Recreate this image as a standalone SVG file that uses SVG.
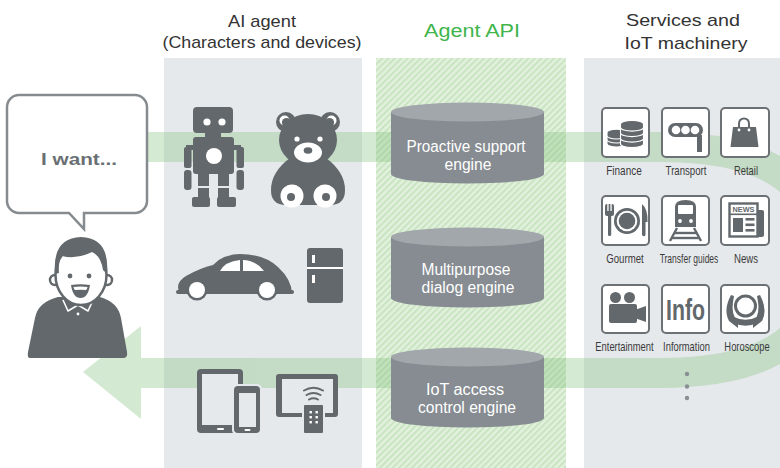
<svg xmlns="http://www.w3.org/2000/svg" width="780" height="468" viewBox="0 0 780 468">
  <defs>
    <pattern id="hatch" width="4.5" height="6" patternUnits="userSpaceOnUse" patternTransform="rotate(45)">
      <rect width="4.5" height="6" fill="#e2f1dd"/>
      <rect width="2" height="6" fill="#c8e4c1"/>
    </pattern>
    <style>
      .hdr { font-family: "Liberation Sans", Arial, sans-serif; font-size: 17px; fill: #333; text-anchor: middle; }
      .eng { font-family: "Liberation Sans Narrow", "Liberation Sans", Arial, sans-serif; font-size: 16px; fill: #fff; text-anchor: middle; }
      .lbl { font-family: "Liberation Sans", Arial, sans-serif; font-size: 12.5px; fill: #3a3a3a; text-anchor: middle; }
      .dk { fill: #62686b; }
      .wh { fill: #fff; }
      .bg { fill: #e6e9ec; }
      .box { fill: #fff; stroke: #6b7175; stroke-width: 2; }
      .cyl-body { fill: #868c91; }
      .cyl-top { fill: #a2a7ab; }
      .coin { fill: #62686b; stroke: #fff; stroke-width: 1.1; }
    </style>
  </defs>

  <rect width="780" height="468" fill="#fff"/>

  <!-- column backgrounds -->
  <rect x="164" y="58" width="198" height="410" class="bg"/>
  <rect x="376" y="58" width="190" height="410" fill="url(#hatch)"/>
  <rect x="584" y="58" width="196" height="410" class="bg"/>

  <!-- headers -->
  <text class="hdr" x="262" y="27" textLength="68" lengthAdjust="spacingAndGlyphs">AI agent</text>
  <text class="hdr" x="262" y="48" textLength="199" lengthAdjust="spacingAndGlyphs">(Characters and devices)</text>
  <text class="hdr" x="472" y="37" style="fill:#40b54c;font-size:18px" textLength="96" lengthAdjust="spacingAndGlyphs">Agent API</text>
  <text class="hdr" x="683" y="26" textLength="114" lengthAdjust="spacingAndGlyphs">Services and</text>
  <text class="hdr" x="686" y="49" textLength="123" lengthAdjust="spacingAndGlyphs">IoT machinery</text>

  <!-- connectors: the request/response loop -->
  <g id="connectors" opacity="0.32">
    <path d="M148,147 H660 C765,147 822,180 822,260 C822,340 765,373 660,373 H140" fill="none" stroke="#7cbd75" stroke-width="30"/>
    <polygon points="141,326 83,372 141,419" fill="#7cbd75"/>
  </g>

  <!-- user -->
  <g id="user">
    <path d="M19,95 H135 A12,12 0 0 1 147,107 V201 A12,12 0 0 1 135,213 H84 V229 L69,213 H19 A12,12 0 0 1 7,201 V107 A12,12 0 0 1 19,95 Z" fill="#fff" stroke="#868b8f" stroke-width="2.5"/>
    <text x="79" y="165" style="font-family:'Liberation Sans',Arial,sans-serif;font-size:17px;font-weight:bold;fill:#6a6f73" text-anchor="middle" textLength="76" lengthAdjust="spacingAndGlyphs">I want...</text>
    <path class="dk" d="M30,358 Q27,358 28,352 L35,318 Q38,302 58,297 L100,297 Q118,302 121,318 L127,352 Q128,358 123,358 Z"/>
    <path d="M63,300 L68,311 L78,305 L88,311 L93,300" fill="none" stroke="#fff" stroke-width="1.6" stroke-linejoin="round"/>
    <circle cx="78" cy="314" r="1.4" class="wh"/>
    <circle cx="55" cy="280" r="5" fill="#fff" stroke="#62686b" stroke-width="2.5"/>
    <circle cx="107" cy="280" r="5" fill="#fff" stroke="#62686b" stroke-width="2.5"/>
    <ellipse cx="81" cy="275" rx="25.5" ry="30" fill="#fff" stroke="#62686b" stroke-width="2.5"/>
    <path class="dk" d="M55,274 Q52,238 81,237 Q110,238 107,274 L103,270 Q101,256 92,252 Q76,260 62,256 Q58,262 59,273 Z"/>
    <circle cx="70" cy="276" r="2.4" class="dk"/>
    <circle cx="89" cy="276" r="2.4" class="dk"/>
    <path class="dk" d="M71,285 Q80,283.5 90,285 Q88,298 80.5,298 Q73,298 71,285 Z"/>
    <path class="wh" d="M73.5,287 Q80.5,286 87.5,287 Q87,289.5 86,290 Q80.5,289.5 75,290 Q74,289.5 73.5,287 Z"/>
  </g>

  <!-- AI agent characters and devices -->
  <g id="robot" class="dk">
    <rect x="193" y="107" width="40" height="26" rx="4"/>
    <rect x="205" y="132" width="16" height="6"/>
    <rect x="193" y="137" width="41" height="37" rx="3"/>
    <rect x="186" y="145" width="9" height="5"/>
    <rect x="232" y="145" width="9" height="5"/>
    <rect x="184" y="147" width="7.5" height="21" rx="2"/>
    <rect x="184" y="170" width="7.5" height="20" rx="3"/>
    <rect x="236.5" y="147" width="7.5" height="21" rx="2"/>
    <rect x="236.5" y="170" width="7.5" height="20" rx="3"/>
    <rect x="198" y="173" width="11" height="13"/>
    <rect x="198" y="188" width="11" height="10"/>
    <rect x="218" y="173" width="11" height="13"/>
    <rect x="218" y="188" width="11" height="10"/>
    <rect x="192" y="197" width="18" height="10" rx="2"/>
    <rect x="217" y="197" width="19" height="10" rx="2"/>
    <circle cx="207" cy="122" r="3.6" class="wh"/>
    <circle cx="222" cy="122" r="3.6" class="wh"/>
    <circle cx="214" cy="156" r="8" class="wh"/>
  </g>

  <g id="teddy-bear">
    <circle cx="286" cy="122" r="10" class="dk"/>
    <circle cx="330" cy="122" r="10" class="dk"/>
    <circle cx="284.5" cy="120.5" r="5" class="wh"/>
    <circle cx="331.5" cy="120.5" r="5" class="wh"/>
    <circle cx="286.5" cy="122.5" r="4.6" class="dk"/>
    <circle cx="329.5" cy="122.5" r="4.6" class="dk"/>
    <path class="dk" d="M290,158 Q271,172 271,190 Q271,205 286,205 L330,205 Q345,205 345,190 Q345,172 326,158 Z"/>
    <ellipse cx="308" cy="140" rx="29" ry="26" class="dk"/>
    <circle cx="297" cy="139" r="2.6" class="wh"/>
    <circle cx="320" cy="139" r="2.6" class="wh"/>
    <ellipse cx="308" cy="152.5" rx="14" ry="10" class="wh"/>
    <ellipse cx="308" cy="150.5" rx="4.3" ry="3.2" class="dk"/>
    <circle cx="292" cy="196" r="11.5" class="wh"/>
    <circle cx="325" cy="196" r="11.5" class="wh"/>
    <circle cx="291" cy="197" r="4" class="dk"/>
    <circle cx="326" cy="197" r="4" class="dk"/>
  </g>

  <g id="car">
    <path class="dk" d="M180,294 Q174,283 186,276 Q200,268 213,265 Q222,254.5 240,254 Q264,254 278,267 Q292,280 292,294 Z"/>
    <rect x="176" y="290" width="7" height="4" rx="2" class="dk"/>
    <rect x="287" y="290" width="7" height="4" rx="2" class="dk"/>
    <path class="wh" d="M220,271 Q225,261.5 240,260 L240,271 Z"/>
    <path class="wh" d="M243,260 Q256,260.5 264,271 L243,271 Z"/>
    <circle cx="197" cy="290" r="10.5" class="dk"/>
    <circle cx="267" cy="290" r="10.5" class="dk"/>
    <circle cx="197" cy="290" r="8" class="wh"/>
    <circle cx="267" cy="290" r="8" class="wh"/>
  </g>

  <g id="fridge">
    <rect x="307" y="248" width="36" height="55" rx="3" class="dk"/>
    <rect x="307" y="267" width="36" height="2" class="wh"/>
    <rect x="312" y="255" width="3" height="8" class="wh"/>
    <rect x="312" y="275" width="3" height="8" class="wh"/>
  </g>

  <g id="tablet-phone">
    <rect x="197" y="369" width="46" height="64" rx="4" class="dk"/>
    <rect x="202" y="374" width="36" height="51" class="bg"/>
    <rect x="217" y="428" width="7" height="2" rx="1" class="wh"/>
    <rect x="232" y="384" width="30" height="51" rx="5" class="bg"/>
    <rect x="234" y="386" width="26" height="47" rx="4" class="dk"/>
    <rect x="239" y="393" width="17" height="34" class="bg"/>
    <rect x="244.5" y="429" width="6" height="2" rx="1" class="wh"/>
  </g>

  <g id="tv-remote">
    <rect x="276" y="374" width="62" height="43" rx="3" class="dk"/>
    <rect x="282" y="379" width="51" height="34" class="bg"/>
    <rect x="302" y="403" width="23" height="32" rx="2" class="bg"/>
    <rect x="304" y="405" width="19" height="28" rx="1" class="dk"/>
    <g class="wh">
      <rect x="309.5" y="411" width="2.4" height="2.4"/><rect x="315.5" y="411" width="2.4" height="2.4"/>
      <rect x="309.5" y="416" width="2.4" height="2.4"/><rect x="315.5" y="416" width="2.4" height="2.4"/>
      <rect x="309.5" y="421" width="2.4" height="2.4"/><rect x="315.5" y="421" width="2.4" height="2.4"/>
    </g>
    <g fill="none" stroke="#62686b" stroke-width="2" stroke-linecap="round">
      <path d="M309,399.5 Q313.5,397 318,399.5"/>
      <path d="M306.5,395 Q313.5,391 320.5,395"/>
      <path d="M304,390.5 Q313.5,385 323,390.5"/>
    </g>
  </g>

  <!-- Agent API engines -->
  <g id="proactive-support-engine">
    <path class="cyl-body" d="M391,112 V174 A76.5,9.5 0 0 0 544,174 V112 Z"/>
    <ellipse class="cyl-top" cx="467.5" cy="112" rx="76.5" ry="9.5"/>
    <text class="eng" x="466" y="152" textLength="119" lengthAdjust="spacingAndGlyphs">Proactive support</text>
    <text class="eng" x="468" y="170" textLength="47" lengthAdjust="spacingAndGlyphs">engine</text>
  </g>
  <g id="multipurpose-dialog-engine">
    <path class="cyl-body" d="M391,237 V298 A76.5,9.5 0 0 0 544,298 V237 Z"/>
    <ellipse class="cyl-top" cx="467.5" cy="237" rx="76.5" ry="9.5"/>
    <text class="eng" x="466" y="275" textLength="89" lengthAdjust="spacingAndGlyphs">Multipurpose</text>
    <text class="eng" x="468" y="293" textLength="93" lengthAdjust="spacingAndGlyphs">dialog engine</text>
  </g>
  <g id="iot-access-control-engine">
    <path class="cyl-body" d="M391,357 V418 A76.5,9.5 0 0 0 544,418 V357 Z"/>
    <ellipse class="cyl-top" cx="467.5" cy="357" rx="76.5" ry="9.5"/>
    <text class="eng" x="465" y="395" textLength="78" lengthAdjust="spacingAndGlyphs">IoT access</text>
    <text class="eng" x="467" y="413" textLength="98" lengthAdjust="spacingAndGlyphs">control engine</text>
  </g>

  <!-- services -->
  <g id="finance">
    <rect class="box" x="602" y="108" width="47" height="49" rx="4"/>
    <path class="coin" d="M607,140.5 v3.2 a9.5,3.3 0 0 0 19,0 v-3.2 a9.5,3.3 0 0 0 -19,0 z"/>
    <path class="coin" d="M607,136.5 v3.2 a9.5,3.3 0 0 0 19,0 v-3.2 a9.5,3.3 0 0 0 -19,0 z"/>
    <path class="coin" d="M607,132.5 v3.2 a9.5,3.3 0 0 0 19,0 v-3.2 a9.5,3.3 0 0 0 -19,0 z"/>
    <path class="coin" d="M620.5,140.5 v3.5 a11.5,3.6 0 0 0 23,0 v-3.5 a11.5,3.6 0 0 0 -23,0 z"/>
    <path class="coin" d="M620.5,135 v3.5 a11.5,3.6 0 0 0 23,0 v-3.5 a11.5,3.6 0 0 0 -23,0 z"/>
    <path class="coin" d="M620.5,129.5 v3.5 a11.5,3.6 0 0 0 23,0 v-3.5 a11.5,3.6 0 0 0 -23,0 z"/>
    <path class="coin" d="M620.5,124 v3.5 a11.5,3.6 0 0 0 23,0 v-3.5 a11.5,3.6 0 0 0 -23,0 z"/>
    <text class="lbl" transform="translate(624,175) scale(0.8,1)">Finance</text>
  </g>
  <g id="transport">
    <rect class="box" x="662" y="108" width="47" height="49" rx="4"/>
    <rect x="668" y="123" width="35" height="14" rx="7" class="dk"/>
    <rect x="697" y="135" width="5" height="17" class="dk"/>
    <circle cx="676" cy="130" r="4.3" class="wh"/>
    <circle cx="685.5" cy="130" r="4.3" class="wh"/>
    <circle cx="695" cy="130" r="4.3" class="wh"/>
    <text class="lbl" transform="translate(686,175) scale(0.77,1)">Transport</text>
  </g>
  <g id="retail">
    <rect class="box" x="721" y="108" width="48" height="49" rx="4"/>
    <path class="dk" d="M733,127 H756 L758.5,147 H730.5 Z"/>
    <path d="M739,130 V124 Q739,118.5 744,118.5 Q749,118.5 749,124 V130" fill="none" stroke="#62686b" stroke-width="2"/>
    <circle cx="739" cy="130" r="1.4" class="wh"/>
    <circle cx="749" cy="130" r="1.4" class="wh"/>
    <text class="lbl" transform="translate(746,175) scale(0.75,1)">Retail</text>
  </g>

  <g id="gourmet">
    <rect class="box" x="602" y="196" width="47" height="49" rx="4"/>
    <rect x="605" y="204" width="9" height="12" rx="2" class="dk"/>
    <rect x="607.3" y="203" width="1.3" height="8" class="wh"/>
    <rect x="610.4" y="203" width="1.3" height="8" class="wh"/>
    <rect x="608" y="214" width="3.2" height="22" rx="1.6" class="dk"/>
    <circle cx="627" cy="221" r="13" class="dk"/>
    <circle cx="627" cy="221" r="10.3" class="wh"/>
    <circle cx="627" cy="221" r="8.3" class="dk"/>
    <path class="dk" d="M642,204 Q648,209 647.5,222 L645.5,222 V235 Q643.8,237.5 642,235 Z"/>
    <text class="lbl" transform="translate(625,263) scale(0.77,1)">Gourmet</text>
  </g>
  <g id="transfer-guides">
    <rect class="box" x="662" y="196" width="47" height="49" rx="4"/>
    <path class="dk" d="M675,227 V207 Q675,200 685.5,200 Q696,200 696,207 V227 Z"/>
    <rect x="678" y="205" width="15" height="9" rx="1" class="wh"/>
    <circle cx="680" cy="221" r="1.9" class="wh"/>
    <circle cx="691" cy="221" r="1.9" class="wh"/>
    <g stroke="#62686b" stroke-width="2.4" fill="none">
      <path d="M677,228 L670,241"/>
      <path d="M694,228 L701,241"/>
      <path d="M674,233 H697"/>
      <path d="M672,238 H699"/>
    </g>
    <text class="lbl" transform="translate(689,263) scale(0.68,1)">Transfer guides</text>
  </g>
  <g id="news">
    <rect class="box" x="721" y="196" width="48" height="49" rx="4"/>
    <path class="dk" d="M756,210 H762 Q764,210 764,212 V235 Q764,237 762,237 H756 Z"/>
    <rect x="729.5" y="203.5" width="28" height="33" fill="#fff" stroke="#62686b" stroke-width="2.4"/>
    <text x="743.5" y="212" style="font-family:'Liberation Sans Narrow','Liberation Sans',Arial,sans-serif;font-size:8px;font-weight:bold;fill:#62686b" text-anchor="middle" textLength="22" lengthAdjust="spacingAndGlyphs">NEWS</text>
    <rect x="730" y="213.5" width="27" height="1.6" class="dk"/>
    <rect x="733" y="218" width="10" height="14" class="dk"/>
    <rect x="745.5" y="218" width="9" height="2.6" class="dk"/>
    <rect x="745.5" y="223.5" width="9" height="2.6" class="dk"/>
    <rect x="745.5" y="229" width="9" height="2.6" class="dk"/>
    <text class="lbl" transform="translate(746,263) scale(0.77,1)">News</text>
  </g>

  <g id="entertainment">
    <rect class="box" x="602" y="285" width="47" height="48" rx="4"/>
    <circle cx="615.5" cy="297.5" r="5.5" class="dk"/>
    <circle cx="629.5" cy="297.5" r="5.5" class="dk"/>
    <rect x="609" y="304" width="28" height="19" rx="2" class="dk"/>
    <path class="dk" d="M636,309.5 L646,306 V322 L636,318.5 Z"/>
    <text class="lbl" transform="translate(624.5,351) scale(0.75,1)">Entertainment</text>
  </g>
  <g id="information">
    <rect class="box" x="662" y="285" width="47" height="48" rx="4"/>
    <text x="685.5" y="320" style="font-family:'Liberation Sans Narrow','Liberation Sans',Arial,sans-serif;font-size:30px;font-weight:bold;fill:#62686b" text-anchor="middle" textLength="39" lengthAdjust="spacingAndGlyphs">Info</text>
    <text class="lbl" transform="translate(686.5,351) scale(0.75,1)">Information</text>
  </g>
  <g id="horoscope">
    <rect class="box" x="721" y="285" width="48" height="48" rx="4"/>
    <circle cx="745.5" cy="306" r="10" fill="#fff" stroke="#62686b" stroke-width="3"/>
    <path class="dk" d="M733,316.5 Q745.5,323 758,316.5 L758,322.5 Q745.5,329 733,322.5 Z"/>
    <path class="dk" d="M731,295 Q723,310 729,321 L738,328 L738,323 Q731,314 733,302 L734,296 Z"/>
    <path class="dk" d="M760,295 Q768,310 762,321 L753,328 L753,323 Q760,314 758,302 L757,296 Z"/>
    <text class="lbl" transform="translate(747,351) scale(0.75,1)">Horoscope</text>
  </g>

  <!-- more services -->
  <g id="more" fill="#8a8f93">
    <circle cx="687" cy="374" r="2.2"/>
    <circle cx="687" cy="386.5" r="2.2"/>
    <circle cx="687" cy="398" r="2.2"/>
  </g>
</svg>
